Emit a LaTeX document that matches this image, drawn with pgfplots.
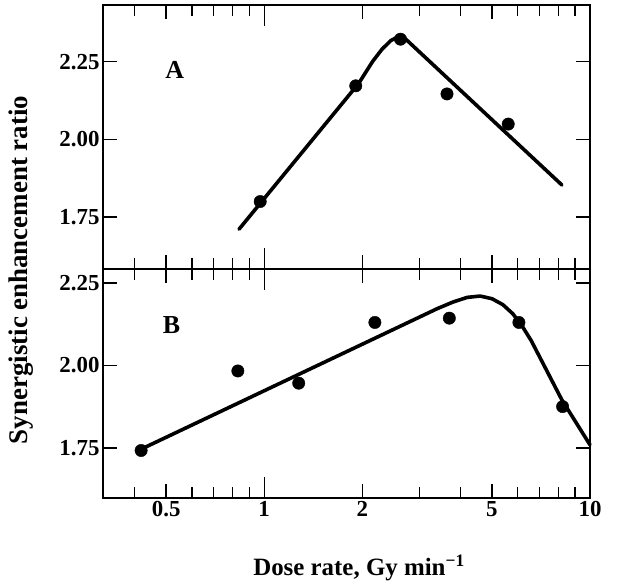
\documentclass[border=0pt]{standalone}
\usepackage{pgfplots}
\pgfplotsset{compat=1.18}
\usepackage{fontspec}
\setmainfont{Liberation Serif}
\begin{document}
\begin{tikzpicture}
\useasboundingbox (0bp,0bp) rectangle (618bp,586bp);
% Panel B (bottom)
\begin{axis}[xmode=log, xmin=0.32, xmax=10,
  scale only axis, width=487bp, height=229bp,
  at={(103bp,88bp)}, anchor=south west,
  ymin=1.598, ymax=2.292,
  axis line style={line width=2.2bp},
  tick align=inside,
  xtick={0.5,1,2,5,10},
  xticklabels={0.5,1,2,5,10},
  minor xtick={0.4,0.6,0.7,0.8,0.9,3,4,6,7,8,9},
  ytick={1.75,2,2.25},
  yticklabels={1.75,2.00,2.25},
  tick style={black, line width=1.4bp},
  major tick length=14bp,
  minor tick length=11bp,
  ticklabel style={font=\bfseries\fontsize{23}{25}\selectfont},
  clip=false]
\addplot[black, line width=3.6bp, line join=round, line cap=round, mark=none] coordinates {
 (0.419,1.746) (3.4,2.172) (3.8,2.192) (4.2,2.206) (4.6,2.210) (5.0,2.202)
 (5.4,2.184) (5.8,2.156) (6.2,2.118) (6.6,2.075) (8.2,1.895) (10,1.759)};
\addplot[only marks, mark=*, mark size=6.2bp, black] coordinates {
 (0.419,1.742) (0.83,1.983) (1.276,1.946) (2.186,2.130) (3.70,2.143) (6.05,2.130) (8.24,1.875)};
\node[font=\bfseries\fontsize{26}{28}\selectfont] at (axis cs:0.519,2.123) {B};
\end{axis}
% longer decade ticks, bottom panel
\begin{axis}[xmode=log, xmin=0.32, xmax=10,
  scale only axis, width=487bp, height=229bp,
  at={(103bp,88bp)}, anchor=south west,
  ymin=1.598, ymax=2.292,
  axis line style={line width=2.2bp},
  tick align=inside,
  xtick={1,10}, xticklabels={}, minor xtick={},
  ytick=\empty,
  tick style={black, line width=1.4bp},
  major tick length=21bp]
\end{axis}
% Panel A (top)
\begin{axis}[xmode=log, xmin=0.32, xmax=10,
  scale only axis, width=487bp, height=264bp,
  at={(103bp,317bp)}, anchor=south west,
  ymin=1.583, ymax=2.432,
  axis line style={line width=2.2bp},
  tick align=inside,
  xtick={0.5,1,2,5,10},
  xticklabels={},
  minor xtick={0.4,0.6,0.7,0.8,0.9,3,4,6,7,8,9},
  ytick={1.75,2,2.25},
  yticklabels={1.75,2.00,2.25},
  tick style={black, line width=1.4bp},
  major tick length=14bp,
  minor tick length=11bp,
  ticklabel style={font=\bfseries\fontsize{23}{25}\selectfont},
  clip=false]
\addplot[black, line width=3.6bp, line join=round, line cap=round, mark=none] coordinates {
 (0.837,1.711) (1.95,2.180) (2.15,2.250) (2.3,2.290) (2.45,2.318) (2.6,2.332) (2.72,2.322) (8.2,1.853)};
\addplot[only marks, mark=*, mark size=6.2bp, black] coordinates {
 (0.972,1.800) (1.91,2.172) (2.62,2.322) (3.64,2.146) (5.61,2.049)};
\node[font=\bfseries\fontsize{26}{28}\selectfont] at (axis cs:0.531,2.223) {A};
\end{axis}
% longer decade ticks, top panel
\begin{axis}[xmode=log, xmin=0.32, xmax=10,
  scale only axis, width=487bp, height=264bp,
  at={(103bp,317bp)}, anchor=south west,
  ymin=1.583, ymax=2.432,
  axis line style={line width=2.2bp},
  tick align=inside,
  xtick={1,10}, xticklabels={}, minor xtick={},
  ytick=\empty,
  tick style={black, line width=1.4bp},
  major tick length=21bp]
\end{axis}
\node[rotate=90, font=\bfseries\fontsize{27}{30}\selectfont] at (21bp,316bp) {Synergistic enhancement ratio};
\node[font=\bfseries\fontsize{25}{28}\selectfont] at (359bp,18bp) {Dose rate, Gy min\textsuperscript{−1}};
\end{tikzpicture}
\end{document}
